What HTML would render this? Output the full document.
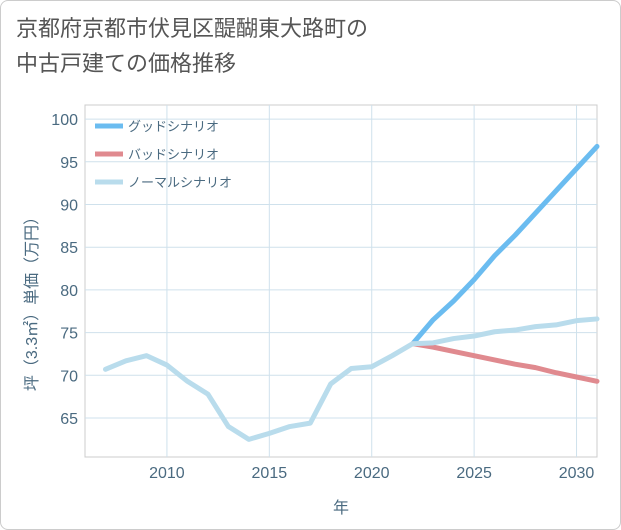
<!DOCTYPE html>
<html><head><meta charset="utf-8"><style>
body{margin:0;background:#fff;font-family:"Liberation Sans","Noto Sans CJK JP",sans-serif}
#card{position:absolute;left:0;top:0;width:619px;height:528px;border:1px solid #ccc;border-radius:8px;background:#fff}
#title{position:absolute;left:16px;top:11px;font-size:22px;line-height:35px;color:#555}
</style></head><body>
<div id="card"></div>
<div id="title">京都府京都市伏見区醍醐東大路町の<br>中古戸建ての価格推移</div>
<svg id="chart" width="621" height="530" style="position:absolute;left:0;top:0"></svg>
<script>
const years=[2007,2008,2009,2010,2011,2012,2013,2014,2015,2016,2017,2018,2019,2020,2021,2022,2023,2024,2025,2026,2027,2028,2029,2030,2031];
const normal=[70.7,71.7,72.3,71.2,69.3,67.8,64.0,62.5,63.2,64.0,64.4,69.0,70.8,71.0,72.3,73.7,73.8,74.3,74.6,75.1,75.3,75.7,75.9,76.4,76.6];
const futureYears=[2022,2023,2024,2025,2026,2027,2028,2029,2030,2031];
const good=[73.7,76.5,78.7,81.2,84.0,86.4,89.0,91.6,94.2,96.8];
const bad=[73.7,73.3,72.8,72.3,71.8,71.3,70.9,70.3,69.8,69.3];
const xTicks=[2010,2015,2020,2025,2030];
const yTicks=[65,70,75,80,85,90,95,100];
const legendLabels=["グッドシナリオ","バッドシナリオ","ノーマルシナリオ"];
const colors=["#6bbcf0","#e08a8f","#b9dcec"];

const L=85,R=597,T=105,B=457;
const X=y=>L+(y-2006)/(2031-2006)*(R-L);
const Y=v=>418-(v-65)*8.54;
const svg=document.getElementById('chart');
const NS='http://www.w3.org/2000/svg';
function mk(t,a){const e=document.createElementNS(NS,t);for(const k in a)e.setAttribute(k,a[k]);svg.appendChild(e);return e;}
let e=mk('rect',{x:L,y:T,width:R-L,height:B-T,fill:'#fff',stroke:'#ccc'});


for(const t of xTicks){
 e=mk('line',{x1:X(t),x2:X(t),y1:T,y2:B,stroke:'#cfe1ec'});
 
 
 e=mk('text',{x:X(t),y:B+21,'font-size':16,fill:'#4a6a80','text-anchor':'middle'});e.textContent=t;
 
 
}
for(const t of yTicks){
 e=mk('line',{x1:L,x2:R,y1:Y(t),y2:Y(t),stroke:'#cfe1ec'});
 
 
 e=mk('text',{x:L-7,y:Y(t)+6,'font-size':16,fill:'#4a6a80','text-anchor':'end'});e.textContent=t;
 
 
}
function line(xs,vs,c,name){
 e=mk('polyline',{points:xs.map((x,i)=>X(x)+','+Y(vs[i])).join(' '),fill:'none',stroke:c,'stroke-width':5,'stroke-linejoin':'round','stroke-linecap':'round'});
 
 
}
line(futureYears,good,colors[0],'good-scenario-line');
line(futureYears,bad,colors[1],'bad-scenario-line');
line(years,normal,colors[2],'normal-scenario-line');
legendLabels.forEach((s,i)=>{
 const y=126+i*28;
 e=mk('line',{x1:95,x2:123,y1:y,y2:y,stroke:colors[i],'stroke-width':5});
 
 
 e=mk('text',{x:128,y:y+5,'font-size':13,fill:'#4a6a80'});e.textContent=s;
 
 
});
e=mk('text',{x:341,y:513,'font-size':16,fill:'#4a6a80','text-anchor':'middle'});e.textContent='年';


e=mk('text',{x:0,y:0,'font-size':16,fill:'#4a6a80','text-anchor':'middle',transform:'translate(37,300) rotate(-90)'});e.textContent='坪（3.3㎡）単価（万円）';


</script>
</body></html>
